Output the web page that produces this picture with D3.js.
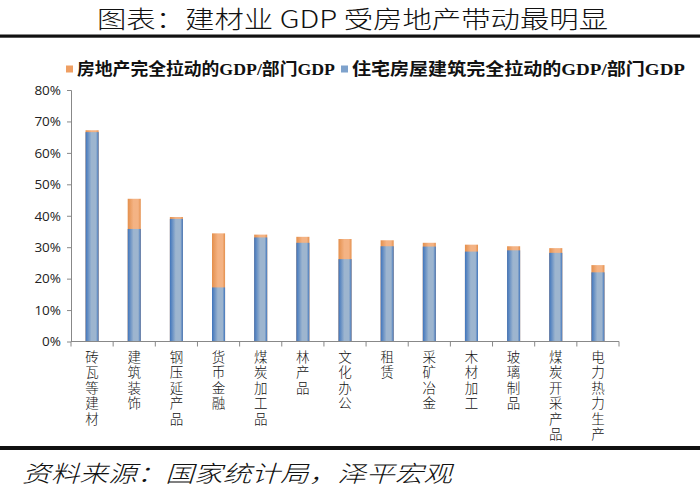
<!DOCTYPE html>
<html><head><meta charset="utf-8">
<script src="https://cdn.jsdelivr.net/npm/d3@7"></script>
<style>body{margin:0;background:#fff;}svg{display:block;}</style>
</head><body>
<svg id="c" width="700" height="491"></svg>
<script>
const categories = ["砖瓦等建材","建筑装饰","钢压延产品","货币金融","煤炭加工品","林产品","文化办公","租赁","采矿冶金","木材加工","玻璃制品","煤炭开采产品","电力热力生产"];
const realEstateTotal = [0.672,0.454,0.396,0.344,0.340,0.333,0.326,0.322,0.314,0.308,0.303,0.297,0.243];
const housingBuild = [0.666,0.358,0.390,0.172,0.331,0.314,0.262,0.303,0.302,0.286,0.290,0.282,0.220];
const yTicks = [0,0.1,0.2,0.3,0.4,0.5,0.6,0.7,0.8];
const seriesNames = ["房地产完全拉动的GDP/部门GDP","住宅房屋建筑完全拉动的GDP/部门GDP"];
const title = "图表：建材业 GDP 受房地产带动最明显";
const source = "资料来源：国家统计局，泽平宏观";

const svg = d3.select("#c");
const defs = svg.append("defs");
function grad(id, edge, mid){
  const g = defs.append("linearGradient").attr("id",id).attr("x1","0").attr("x2","1").attr("y1","0").attr("y2","0");
  g.append("stop").attr("offset","0%").attr("stop-color",edge);
  g.append("stop").attr("offset","45%").attr("stop-color",mid);
  g.append("stop").attr("offset","80%").attr("stop-color",mid);
  g.append("stop").attr("offset","100%").attr("stop-color",edge);
}
grad("gBlue","#3f74bb","#9db5cf");
grad("gOrange","#e48f4c","#f4b384");

const cjk = "'Noto Sans CJK SC', sans-serif";
const serifBold = "'Liberation Serif', 'Noto Sans CJK SC', serif";

// title
svg.append("text").attr("x",97).attr("y",28).attr("font-family",cjk).attr("font-weight",300)
  .attr("font-size",24).attr("fill","#111").attr("textLength",511).attr("lengthAdjust","spacingAndGlyphs").text(title);
svg.append("rect").attr("x",0).attr("y",34.5).attr("width",700).attr("height",3.2).attr("fill","#111");

// footer
svg.append("rect").attr("x",0).attr("y",446).attr("width",700).attr("height",4).attr("fill","#111");
svg.append("text").attr("x",22).attr("y",482).attr("font-family",cjk).attr("font-weight",300).attr("font-style","italic")
  .attr("font-size",23).attr("fill","#111").attr("textLength",430).attr("lengthAdjust","spacingAndGlyphs").text(source);

// legend
const legend = [
  {name:seriesNames[0], fill:"#ef9f63", x:66, tx:77, tl:258},
  {name:seriesNames[1], fill:"#7ea2cc", x:341, tx:352, tl:333}
];
legend.forEach(l=>{
  svg.append("rect").attr("x",l.x).attr("y",65.5).attr("width",7).attr("height",7).attr("fill",l.fill);
  svg.append("text").attr("x",l.tx).attr("y",75).attr("font-family",serifBold).attr("font-weight","bold")
    .attr("font-size",16.5).attr("fill","#111").attr("textLength",l.tl).attr("lengthAdjust","spacingAndGlyphs").text(l.name);
});

// scales
const x = d3.scaleBand().domain(categories).range([71,619]).paddingInner(0.69).paddingOuter(0.345);
const y = d3.scaleLinear().domain([0,0.8]).range([341.5,90]);

// y axis
const yAxis = d3.axisLeft(y).tickValues(yTicks).tickFormat(d3.format(".0%")).tickSize(4).tickPadding(6);
const gy = svg.append("g").attr("transform","translate(71,0)").call(yAxis);
gy.select(".domain").attr("stroke","#888").attr("d","M-4,90.5H0.5V341.5");
gy.selectAll(".tick line").attr("stroke","#888");
gy.selectAll(".tick text").attr("font-family","'Open Sans','DejaVu Sans',sans-serif").attr("font-size",13.5).attr("fill","#222");

// bars
const bars = svg.append("g");
bars.selectAll("rect.o").data(categories).join("rect").attr("class","o")
  .attr("x",d=>x(d)).attr("width",x.bandwidth())
  .attr("y",(d,i)=>y(realEstateTotal[i])).attr("height",(d,i)=>y(0)-y(realEstateTotal[i]))
  .attr("fill","url(#gOrange)");
bars.selectAll("rect.b").data(categories).join("rect").attr("class","b")
  .attr("x",d=>x(d)).attr("width",x.bandwidth())
  .attr("y",(d,i)=>y(housingBuild[i])).attr("height",(d,i)=>y(0)-y(housingBuild[i]))
  .attr("fill","url(#gBlue)");

// x axis
const gx = svg.append("g").attr("transform","translate(0,341.5)");
gx.append("line").attr("x1",71).attr("x2",619).attr("stroke","#888");
const bounds = d3.range(categories.length+1).map(i=>71+i*(548/categories.length));
gx.selectAll("line.t").data(bounds).join("line").attr("class","t")
  .attr("x1",d=>d).attr("x2",d=>d).attr("y1",0).attr("y2",5).attr("stroke","#888");

// x labels (vertical)
svg.append("g").selectAll("text").data(categories).join("text")
  .attr("x",d=>x(d)+x.bandwidth()/2).attr("y",350)
  .style("writing-mode","vertical-rl").style("text-orientation","upright")
  .attr("font-family",cjk).attr("font-weight",300).attr("font-size",13.5)
  .attr("letter-spacing",2).attr("fill","#111").text(d=>d);
</script>
</body></html>
